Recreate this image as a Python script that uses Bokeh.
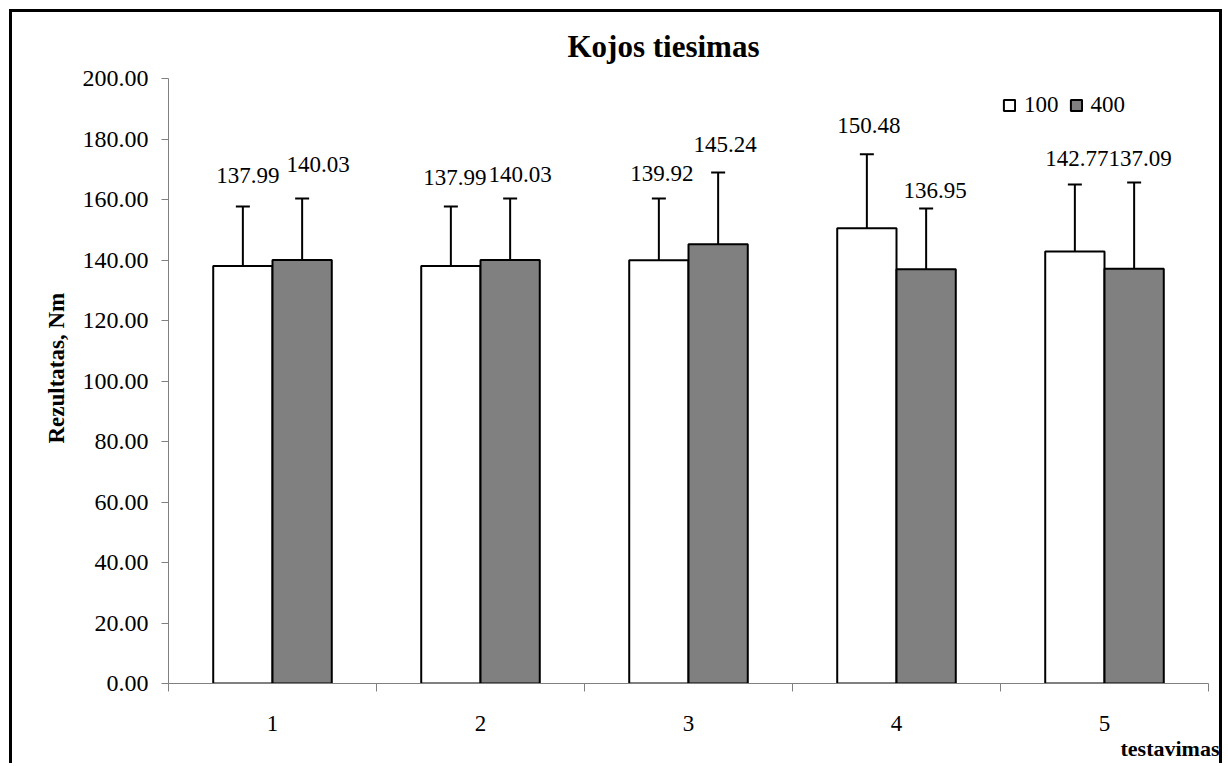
import numpy as np
from bokeh.plotting import figure
from bokeh.models import (Range1d, FixedTicker, NumeralTickFormatter, ColumnDataSource,
                          Whisker, TeeHead, Legend, LegendItem, Title)
from bokeh.core.properties import value
from bokeh.embed import file_html
from bokeh.resources import INLINE

# ---------------- data ----------------
title_text = "Kojos tiesimas"
y_label = "Rezultatas, Nm"
x_label = "testavimas"
categories = ["1", "2", "3", "4", "5"]
series_names = ["100", "400"]
values_100 = [137.99, 137.99, 139.92, 150.48, 142.77]
values_400 = [140.03, 140.03, 145.24, 136.95, 137.09]
sd_100 = [19.7, 19.7, 20.4, 24.5, 22.2]
sd_400 = [20.3, 20.3, 23.7, 20.1, 28.5]
y_ticks = [0, 20, 40, 60, 80, 100, 120, 140, 160, 180, 200]

# label nudges in pixels (manual placement as in the original)
label_dx_100 = [5, 4, 3, 2, 2]
label_dy_100 = [-31, -29, -25, -29, -26]
label_dx_400 = [16, 10, 7, 9, 6]
label_dy_400 = [-34, -24, -28, -18, -24]

FONT = "'Liberation Serif', 'Times New Roman', serif"
BAR_W = 0.285

idx = np.arange(1, len(categories) + 1)


def make_source(vals, sds, shift, dx, dy):
    vals = np.array(vals)
    sds = np.array(sds)
    return ColumnDataSource(dict(
        x=idx + shift,
        top=vals,
        upper=vals + sds,
        label=[f"{v:.2f}" for v in vals],
        dx=dx,
        dy=dy,
    ))


src100 = make_source(values_100, sd_100, -BAR_W / 2, label_dx_100, label_dy_100)
src400 = make_source(values_400, sd_400, BAR_W / 2, label_dx_400, label_dy_400)

p = figure(width=1213, height=754, output_backend="svg", toolbar_location=None,
           x_range=Range1d(0.5, len(categories) + 0.5), y_range=Range1d(0, 200),
           min_border_left=156, min_border_right=17, min_border_top=66,
           min_border_bottom=83)
p.background_fill_color = "white"
p.border_fill_color = "white"
p.outline_line_color = None
p.grid.visible = False
p.styles = {"border-top": "3px solid black", "border-left": "3px solid black",
            "border-right": "3px solid black", "margin-left": "9px",
            "margin-top": "9px"}

# title
p.title.text = title_text
p.title.text_font = FONT
p.title.text_font_size = "31px"
p.title.text_font_style = "bold"
p.title.text_color = "black"
p.title.align = "left"
p.title.offset = 399
p.title.standoff = 29

# bars
r100 = p.vbar(x="x", top="top", width=BAR_W, source=src100, fill_color="white",
              line_color="black", line_width=2)
r400 = p.vbar(x="x", top="top", width=BAR_W, source=src400, fill_color="#808080",
              line_color="black", line_width=2)

# error bars (upper only)
for src in (src100, src400):
    w = Whisker(source=src, base="x", lower="top", upper="upper",
                line_color="black", line_width=2,
                upper_head=TeeHead(size=14, line_color="black", line_width=2),
                lower_head=None)
    p.add_layout(w)

# data labels
for src in (src100, src400):
    p.text(x="x", y="upper", text="label", x_offset="dx", y_offset="dy", source=src,
           text_font=value(FONT), text_font_size="23px", text_color="black",
           text_align="center", text_baseline="middle")

# y axis
ya = p.yaxis[0]
ya.ticker = FixedTicker(ticks=y_ticks)
ya.formatter = NumeralTickFormatter(format="0.00")
ya.major_label_text_font = FONT
ya.major_label_text_font_size = "24px"
ya.major_label_text_color = "black"
ya.major_label_standoff = 13
ya.axis_line_color = "#808080"
ya.major_tick_line_color = "#808080"
ya.major_tick_in = 0
ya.major_tick_out = 7
ya.minor_tick_line_color = None

# y label as a left-side title (sits slightly above the frame centre)
p.add_layout(Title(text=y_label, align="left", offset=240, text_font=FONT,
                   text_font_size="23px", text_font_style="bold", text_color="black",
                   standoff=21),
             "left")

# x axis: labels at category centres, ticks at category boundaries
xa = p.xaxis[0]
xa.ticker = FixedTicker(ticks=list(idx.astype(float)),
                        minor_ticks=list(np.arange(0.5, len(categories) + 1, 1.0)))
xa.major_label_overrides = {float(i): c for i, c in zip(idx, categories)}
xa.major_label_text_font = FONT
xa.major_label_text_font_size = "23px"
xa.major_label_text_color = "black"
xa.major_label_standoff = 24
xa.axis_line_color = "#808080"
xa.major_tick_line_color = None
xa.major_tick_in = 0
xa.major_tick_out = 0
xa.minor_tick_line_color = "#808080"
xa.minor_tick_in = 0
xa.minor_tick_out = 8

# x label at bottom right
p.add_layout(Title(text=x_label, align="right", offset=-11, text_font=FONT,
                   text_font_size="22px", text_font_style="bold", text_color="black",
                   standoff=0),
             "below")

# legend
legend = Legend(items=[LegendItem(label=series_names[0], renderers=[r100]),
                       LegendItem(label=series_names[1], renderers=[r400])],
                orientation="horizontal", location=(834, 565),
                label_text_font=FONT, label_text_font_size="23px",
                label_text_color="black",
                glyph_width=14, glyph_height=14, label_standoff=8, spacing=10,
                padding=0, margin=0, border_line_color=None,
                background_fill_alpha=0)
p.add_layout(legend)

open("out.html", "w").write(file_html(p, INLINE))
